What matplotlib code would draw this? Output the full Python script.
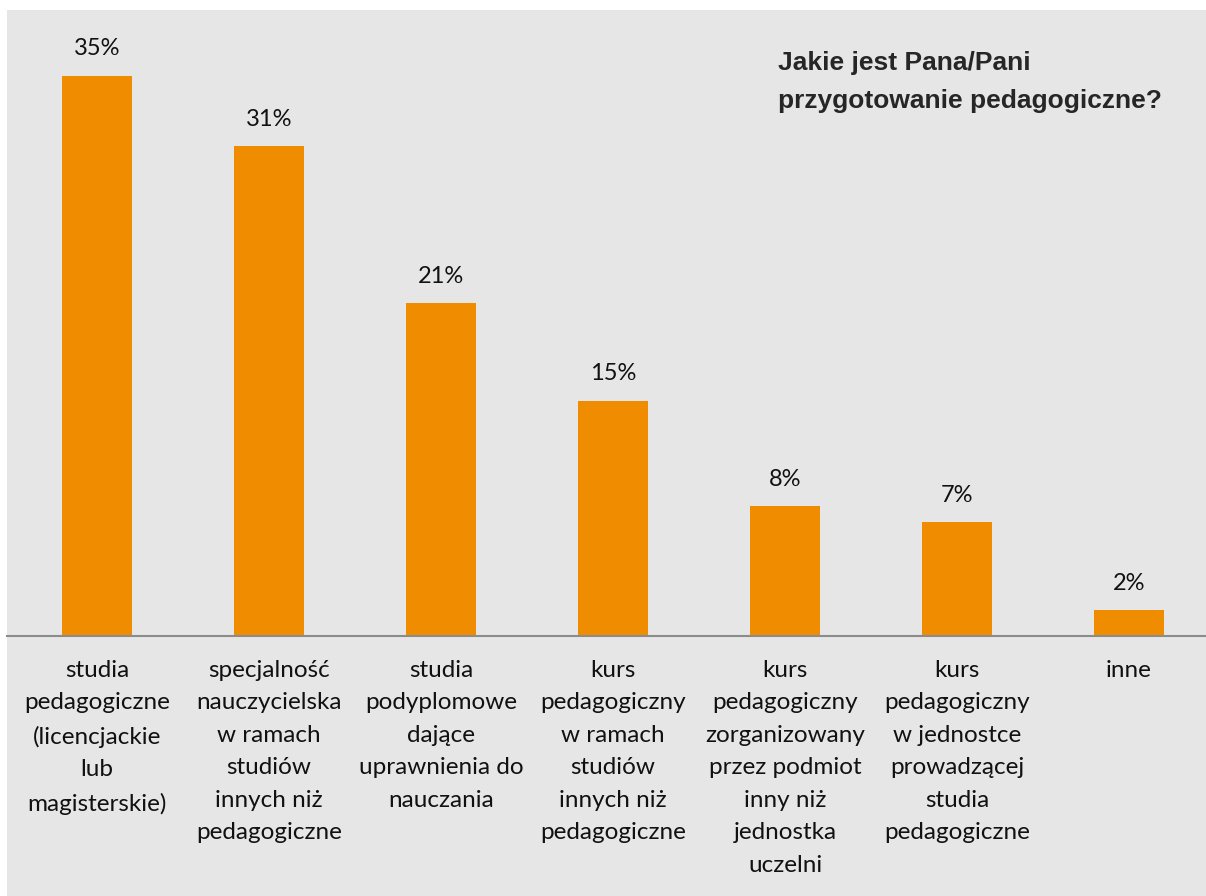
import matplotlib.pyplot as plt
from matplotlib.patches import Rectangle

# dane z wykresu
categories = [
    "studia\npedagogiczne\n(licencjackie\nlub\nmagisterskie)",
    "specjalność\nnauczycielska\nw ramach\nstudiów\ninnych niż\npedagogiczne",
    "studia\npodyplomowe\ndające\nuprawnienia do\nnauczania",
    "kurs\npedagogiczny\nw ramach\nstudiów\ninnych niż\npedagogiczne",
    "kurs\npedagogiczny\nzorganizowany\nprzez podmiot\ninny niż\njednostka\nuczelni",
    "kurs\npedagogiczny\nw jednostce\nprowadzącej\nstudia\npedagogiczne",
    "inne",
]
values = [35.0, 30.6, 20.8, 14.7, 8.1, 7.1, 1.6]
title = "Jakie jest Pana/Pani\nprzygotowanie pedagogiczne?"

BG = "#e6e6e6"
ORANGE = "#f08c00"
W, H = 1206, 896


def main():
    fig = plt.figure(figsize=(W / 100, H / 100), dpi=100, facecolor="white")
    # szare tło (mały biały margines u góry i z lewej)
    fig.patches.append(Rectangle((7 / W, 0), 1 - 7 / W, 1 - 10 / H,
                                 transform=fig.transFigure, facecolor=BG,
                                 edgecolor="none", zorder=-10))

    base_px = 636
    ax = fig.add_axes([7 / W, (H - base_px) / H, 1 - 7 / W, (base_px - 10) / H])
    ax.set_facecolor(BG)
    px_per_unit = 16.0
    ax.set_ylim(0, (base_px - 10) / px_per_unit)
    left = -(97 - 7) / 172
    ax.set_xlim(left, left + (W - 7) / 172)

    x = list(range(len(values)))
    bars = ax.bar(x, values, width=70 / 172, color=ORANGE, zorder=2)
    for b, v in zip(bars, values):
        ax.annotate(f"{v:.0f}%", (b.get_x() + b.get_width() / 2, v),
                    xytext=(0, 12), textcoords="offset points",
                    ha="center", va="bottom", fontsize=17, family="Lato",
                    color="#111111")

    ax.set_xticks(x)
    ax.set_xticklabels(categories, fontsize=17.5, family="Lato",
                       linespacing=1.68, color="#111111", va="top")
    ax.tick_params(axis="x", length=0, pad=17)
    ax.set_yticks([])
    for s in ["top", "left", "right"]:
        ax.spines[s].set_visible(False)
    ax.spines["bottom"].set_color("#8c8c8c")
    ax.spines["bottom"].set_linewidth(1.5)

    fig.text(778 / W, 1 - 51 / H, title, ha="left", va="top",
             fontsize=19, fontweight="bold", family="Liberation Sans",
             color="#262626", linespacing=1.75)

    fig.savefig("out.png", dpi=100, facecolor="white")


if __name__ == '__main__':
    main()
